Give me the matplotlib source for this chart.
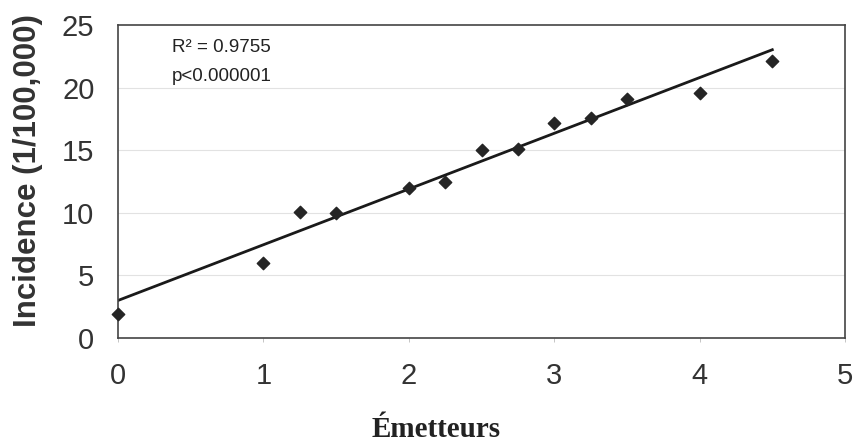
"""
Incidence vs number of emitters, with linear trend line.
"""

import matplotlib.pyplot as plt
import numpy as np

# data
emetteurs = [0, 1, 1.25, 1.5, 2, 2.25, 2.5, 2.75, 3, 3.25, 3.5, 4, 4.5]
incidence = [1.9, 6.0, 10.1, 10.0, 12.0, 12.5, 15.0, 15.1, 17.2, 17.6, 19.1, 19.6, 22.1]

# trend line as drawn on the original
trend_intercept = 3.0
trend_slope = 4.45
trend_x = [0, 4.5]

x_ticks = [0, 1, 2, 3, 4, 5]
y_ticks = [0, 5, 10, 15, 20, 25]

fig = plt.figure(figsize=(8.57, 4.45), dpi=100)
ax = fig.add_axes([0.1377, 0.2404, 0.8483, 0.7034])

ax.set_xlim(0, 5)
ax.set_ylim(0, 25)

# faint horizontal grid
for y in y_ticks[1:-1]:
    ax.axhline(y, color="#e2e2e2", lw=0.8, zorder=0)

tx = np.array(trend_x)
ax.plot(tx, trend_intercept + trend_slope * tx, color="#1a1a1a", lw=2, zorder=2)

ax.scatter(emetteurs, incidence, marker="D", s=40, color="#252525",
           zorder=3, clip_on=False)

ax.text(0.37, 23.2, "R² = 0.9755", fontsize=13.5, family="Liberation Sans",
        color="#222222", va="center")
ax.text(0.37, 20.9, "p<0.000001", fontsize=13.5, family="Liberation Sans",
        color="#222222", va="center")

ax.set_xticks(x_ticks)
ax.set_yticks(y_ticks)
ax.tick_params(axis="x", length=3, width=0.6, color="#bbbbbb", pad=14,
               labelsize=21, labelcolor="#333333")
ax.tick_params(axis="y", length=0, pad=17, labelsize=21, labelcolor="#333333")
for lab in ax.get_xticklabels() + ax.get_yticklabels():
    lab.set_family("Liberation Sans")

for sp in ax.spines.values():
    sp.set_color("#444444")
    sp.set_linewidth(1.2)

fig.text(0.033, 0.616, "Incidence (1/100,000)", fontsize=22.5, fontweight="bold",
         family="Liberation Sans", color="#333333", rotation=90,
         ha="center", va="center")
fig.text(0.509, 0.034, "Émetteurs", fontsize=21, fontweight="bold",
         family="Liberation Serif", color="#222222", ha="center", va="center")

fig.savefig("out.png", dpi=100, facecolor="white")
